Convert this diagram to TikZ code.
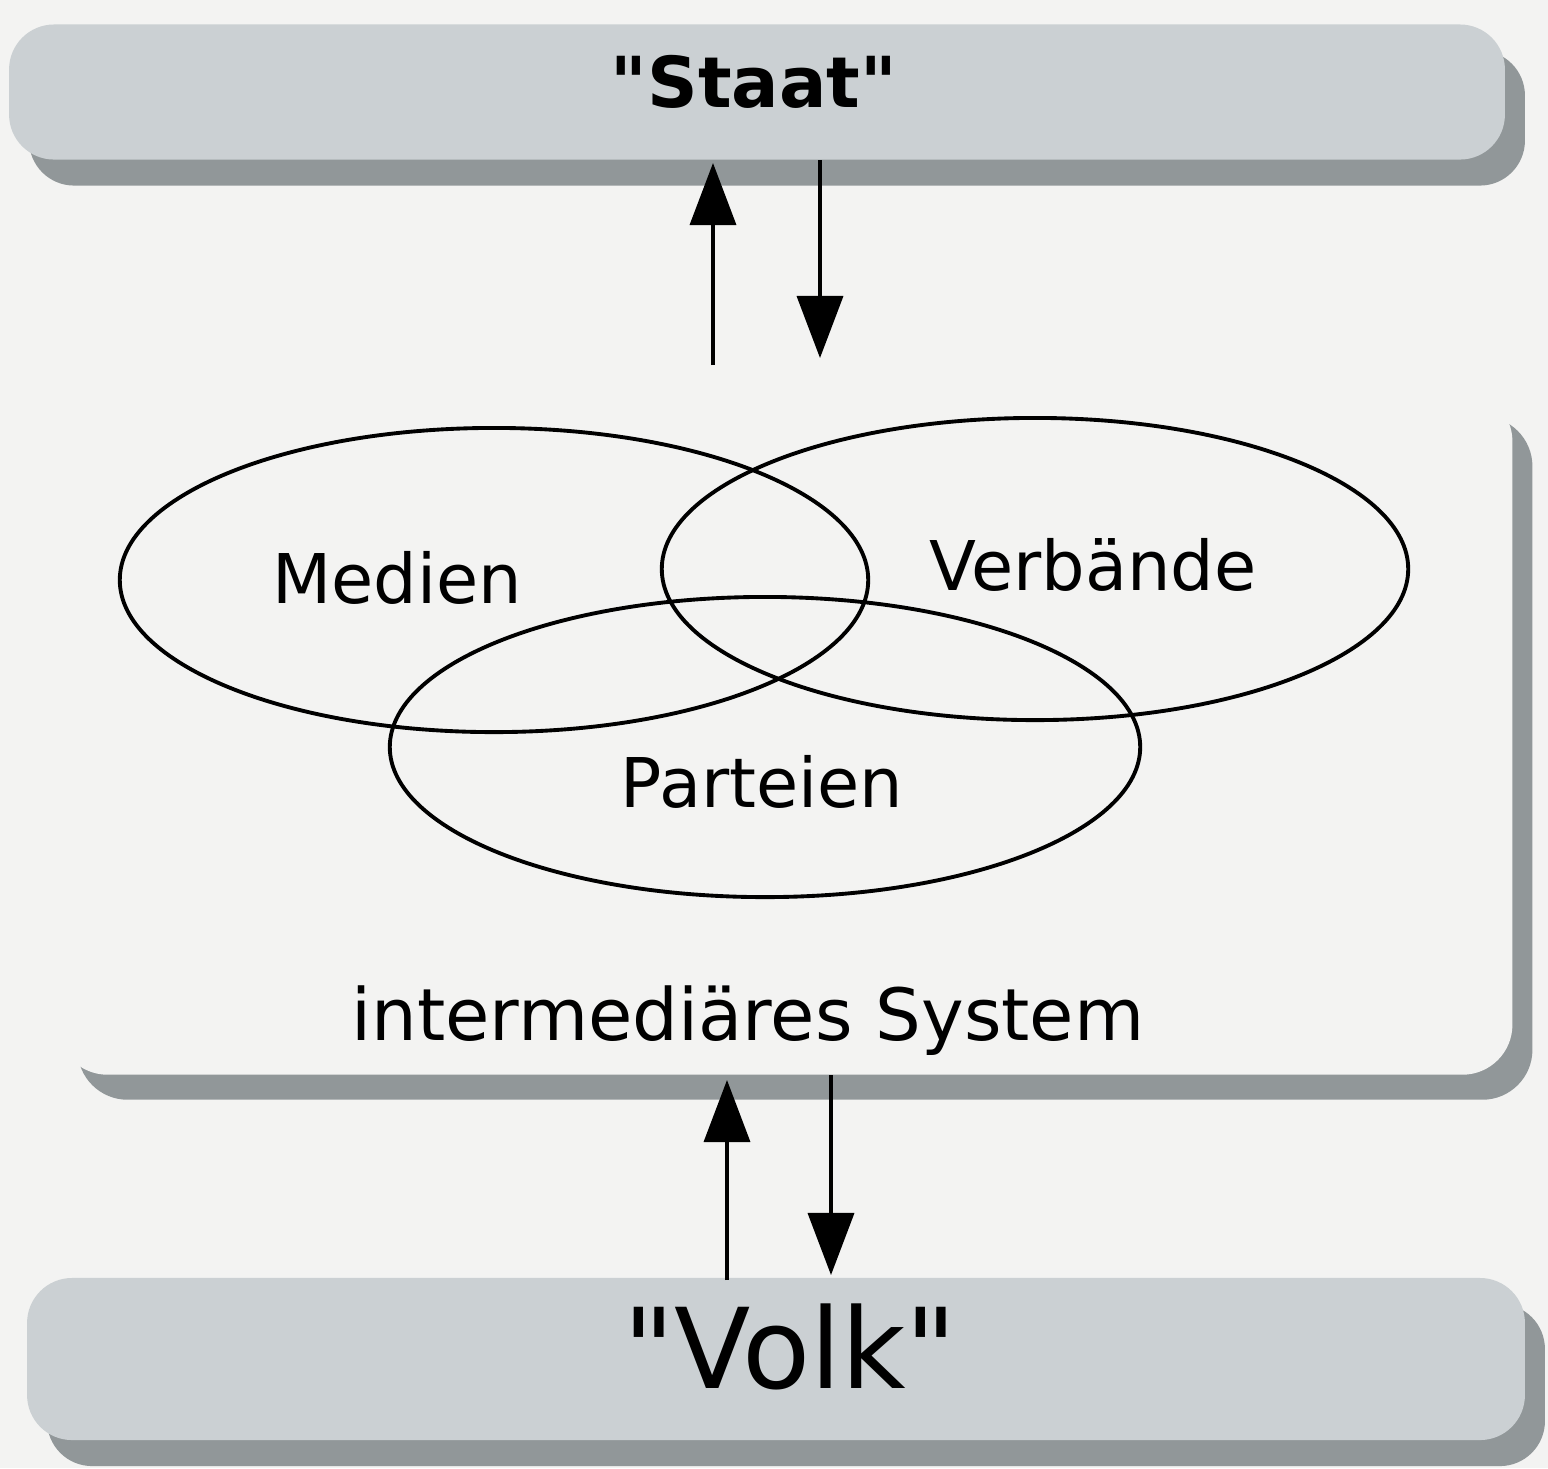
\documentclass[tikz,border=0pt]{standalone}
\usepackage{fontspec}
\setmainfont{DejaVu Sans}[Ligatures=TeXOff]
\usetikzlibrary{arrows.meta,shapes.geometric,shadows}
\definecolor{bgc}{RGB}{243,243,242}
\definecolor{barc}{RGB}{203,208,211}
\definecolor{shadc}{RGB}{145,151,153}
\tikzset{
  bar/.style={draw=none, fill=barc, rounded corners=0.45cm, inner sep=0pt,
    drop shadow={shadow xshift=0.2cm, shadow yshift=-0.26cm, fill=shadc, opacity=1}},
  interbox/.style={draw=none, fill=bgc, rounded corners=0.5cm, inner sep=0pt,
    drop shadow={shadow xshift=0.2cm, shadow yshift=-0.25cm, fill=shadc, opacity=1}},
  ell/.style={ellipse, draw=black, line width=1.1pt, inner sep=0pt},
  lbl/.style={anchor=base, inner sep=0pt, font=\fontsize{19.5}{22}\selectfont},
  arr/.style={line width=1pt, -{Triangle[length=0.62cm,width=0.46cm]}}
}
\begin{document}
\begin{tikzpicture}[x=0.01cm,y=-0.01cm]
\fill[bgc] (0,0) rectangle (1548,1468);
\useasboundingbox (0,0) rectangle (1548,1468);

% bars and box
\node[bar, minimum width=14.95cm, minimum height=1.35cm] (staat) at (757,92) {};
\node[interbox, minimum width=14.54cm, minimum height=6.83cm] (inter) at (785,733) {};
\node[bar, minimum width=14.97cm, minimum height=1.62cm] (volk) at (776,1359) {};

% texts
\node[anchor=base, inner sep=0pt, font=\fontsize{20}{24}\bfseries\selectfont] (staattxt) at (754,107) {"Staat"};
\node[anchor=base, inner sep=0pt, font=\fontsize{31.7}{36}\selectfont] (volktxt) at (790,1388) {"Volk"};

% ellipses
\node[ell, minimum width=7.48cm, minimum height=3.04cm] (medien) at (494,580) {};
\node[ell, minimum width=7.46cm, minimum height=3.02cm] (verbaende) at (1035,569) {};
\node[ell, minimum width=7.50cm, minimum height=3.00cm] (parteien) at (765,747) {};

\node[lbl] (medientxt) at (397,603) {Medien};
\node[lbl] (verbtxt) at (1093,590) {Verbände};
\node[lbl] (parttxt) at (762,807) {Parteien};
\node[anchor=base, inner sep=0pt, font=\fontsize{20.5}{24}\selectfont] (systxt) at (748,1040) {intermediäres System};

% arrow end points
\coordinate (u1s) at (713,365);
\coordinate (u1e) at (713,163);
\coordinate (d1s) at (820,160);
\coordinate (d1e) at (820,358);
\coordinate (u2s) at (727,1280);
\coordinate (u2e) at (727,1080);
\coordinate (d2s) at (831,1075);
\coordinate (d2e) at (831,1275);

\draw[arr] (u1s) -- (u1e);
\draw[arr] (d1s) -- (d1e);
\draw[arr] (u2s) -- (u2e);
\draw[arr] (d2s) -- (d2e);
\end{tikzpicture}
\end{document}
